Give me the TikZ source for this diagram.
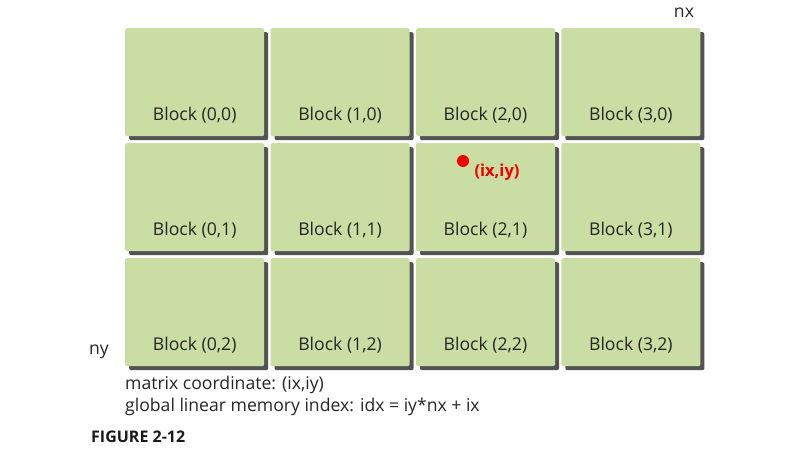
\documentclass[tikz,border=0pt]{standalone}
\usepackage{fontspec}
\setmainfont{Open Sans}
\usetikzlibrary{shadows}
\definecolor{blockgreen}{HTML}{CADDA3}
\definecolor{shadowgray}{HTML}{535353}
\definecolor{dotred}{HTML}{F00000}
\tikzset{
  block/.style={fill=blockgreen, rounded corners=2pt, minimum width=139pt,
    minimum height=108pt, inner sep=0pt, anchor=north west,
    drop shadow={shadow xshift=4pt, shadow yshift=-4pt, fill=shadowgray, opacity=1}},
  lbl/.style={font=\fontsize{17.6}{20}\selectfont, text=black!85, inner sep=0pt},
  note/.style={font=\fontsize{17.6}{20}\selectfont, text=black!85, inner sep=0pt, anchor=west}
}
\begin{document}
\begin{tikzpicture}[x=1pt,y=-1pt]
\useasboundingbox (0,0) rectangle (809,452);
% blocks of the grid
\foreach \i in {0,...,3} {
  \foreach \j in {0,...,2} {
    \node[block] (b\i\j) at ({125+145.4*\i},{28+115*\j}) {};
    \node[lbl] (l\i\j) at ([yshift=21pt]b\i\j.south) {Block (\i,\j)};
  }
}
% thread point
\node[circle, fill=dotred, minimum size=12pt, inner sep=0pt] (pt) at (463,161) {};
\node[lbl, text=dotred, font=\fontsize{16.5}{18}\selectfont\bfseries] (ptlbl) at (497,172) {(ix,iy)};
% axis names
\node[lbl] (nx) at (684,13) {nx};
\node[lbl] (ny) at (99,352) {ny};
% notes
\node[note] (n1) at (125,385) {matrix coordinate: (ix,iy)};
\node[note] (n2) at (125,407) {global linear memory index: idx = iy*nx + ix};
\node[note, font=\fontsize{16}{18}\selectfont\bfseries, text=black!90] (fig) at (91,437) {FIGURE 2-12};
\end{tikzpicture}
\end{document}
